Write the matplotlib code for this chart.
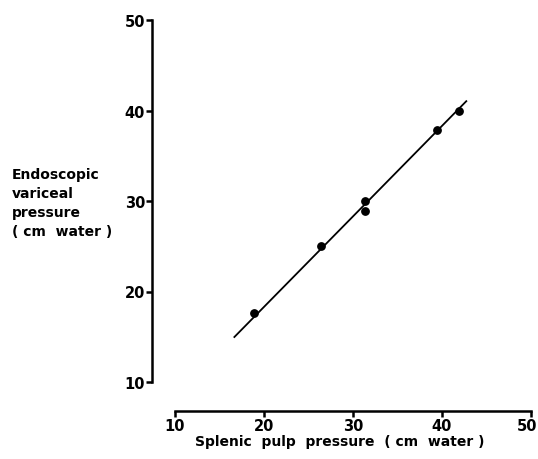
import matplotlib
matplotlib.use("Agg")
import matplotlib.pyplot as plt
from matplotlib.transforms import ScaledTranslation

# splenic pulp pressure vs endoscopic variceal pressure (cm water)
splenic = [18.9, 26.4, 31.4, 31.4, 39.4, 41.9]
variceal = [17.6, 25.0, 30.0, 28.9, 37.9, 40.0]

# regression line ends
line_x = [16.6, 42.8]
line_y = [14.9, 41.1]

ticks = [10, 20, 30, 40, 50]

plt.rcParams['font.family'] = 'DejaVu Sans'
plt.rcParams['font.weight'] = 'bold'

fig = plt.figure(figsize=(5.38, 4.60), dpi=100)
ax = fig.add_axes([175 / 538, 77 / 460, 356 / 538, 362 / 460])

ax.plot(line_x, line_y, color='black', lw=1.3, solid_capstyle='butt')
ax.scatter(splenic, variceal, s=28, color='black', zorder=3, clip_on=False)

ax.set_xlim(10, 50)
ax.set_ylim(10, 50)
ax.set_xticks(ticks)
ax.set_yticks(ticks)

for side in ['top', 'right']:
    ax.spines[side].set_visible(False)
# offsets in points (px * 0.72)
ax.spines['left'].set_position(('outward', 16.5))
ax.spines['bottom'].set_position(('outward', 21))
ax.spines['left'].set_linewidth(1.8)
ax.spines['bottom'].set_linewidth(1.8)

ax.tick_params(axis='both', direction='out', length=4, width=1.8, labelsize=10.5, pad=1)
for lab in ax.get_xticklabels() + ax.get_yticklabels():
    lab.set_fontweight('bold')
# keep the last x label inside the figure
last = ax.get_xticklabels()[-1]
last.set_transform(last.get_transform() + ScaledTranslation(-4 / 100, 0, fig.dpi_scale_trans))

ax.set_xlabel('Splenic  pulp  pressure  ( cm  water )', fontsize=10, fontweight='bold')
ax.xaxis.set_label_coords(0.463, -0.143, transform=ax.transAxes)
ax.xaxis.label.set_va('top')
fig.text(12 / 538, 1 - 168 / 460, 'Endoscopic\nvariceal\npressure\n( cm  water )',
         ha='left', va='top', fontsize=10, fontweight='bold', linespacing=1.45)

fig.savefig('out.png', dpi=100)
